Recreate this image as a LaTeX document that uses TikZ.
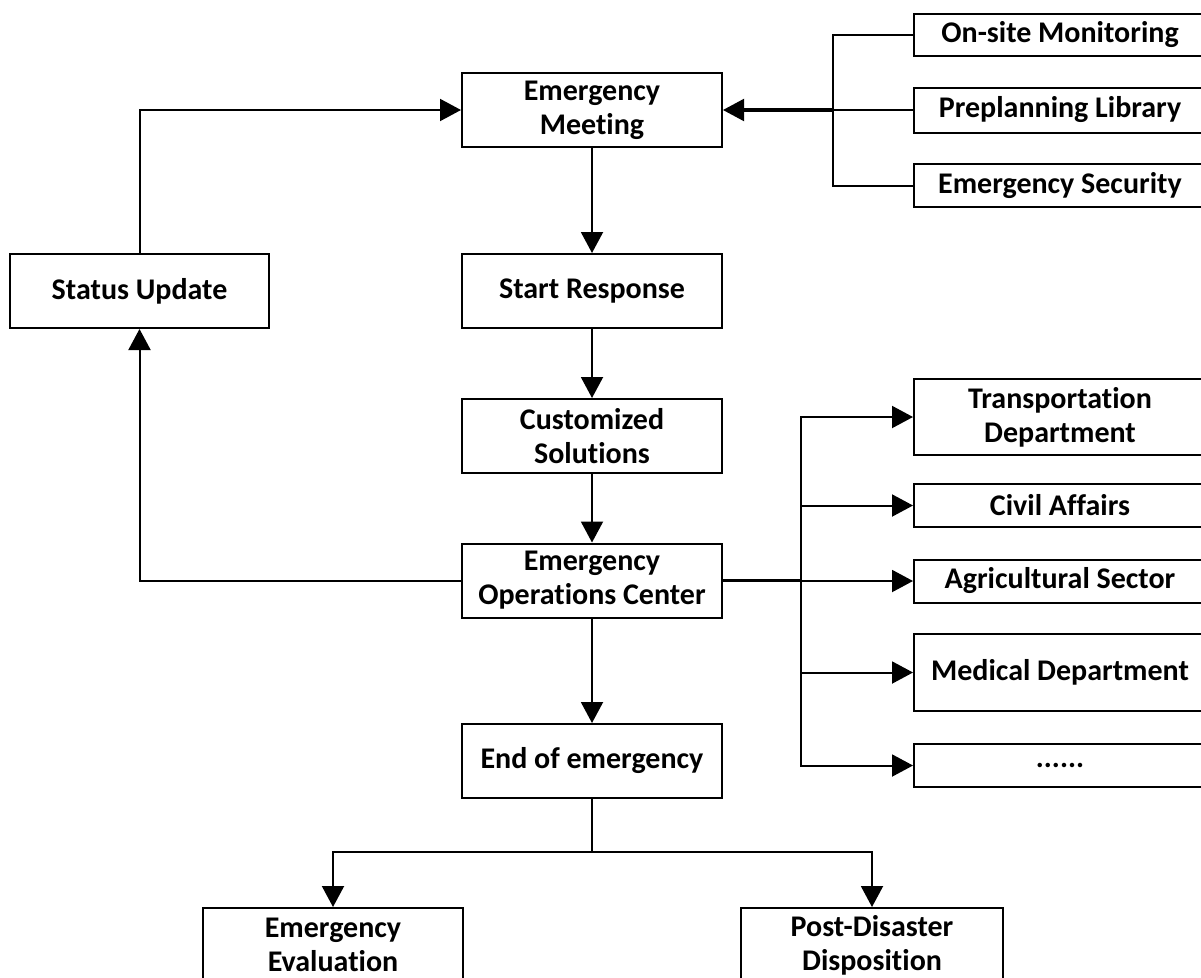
\documentclass[tikz,border=0pt]{standalone}
\usepackage{fontspec}
\setmainfont{Carlito}[Ligatures=NoCommon, RawFeature={-liga;-clig;-dlig}]
\usetikzlibrary{arrows.meta}

\begin{document}
\begin{tikzpicture}[x=1pt,y=-1pt,
  box/.style={draw, line width=2pt, inner sep=0pt, align=center,
    font=\bfseries\fontsize{30}{34}\selectfont},
  mainbox/.style={box, minimum width=260pt, minimum height=74pt},
  sidebox/.style={box, minimum width=292pt},
  link/.style={line width=2pt},
  flow/.style={link, -{Triangle[length=21pt,width=22pt]}},
  heavy/.style={line width=3.2pt}]
\useasboundingbox (0,0) rectangle (1201,977);

% central chain
\node[mainbox] (em)  at (592,110)   {Emergency\\Meeting};
\node[mainbox] (sr)  at (592,291)   {Start Response};
\node[mainbox] (cs)  at (592,436)   {Customized\\Solutions};
\node[mainbox] (eoc) at (592,580.5) {Emergency\\Operations Center};
\node[mainbox] (end) at (592,761)   {End of emergency};

% feedback loop
\node[mainbox, minimum width=259pt] (su) at (139.5,291) {Status Update};

% closing stage
\node[mainbox] (ev) at (333,945) {Emergency\\Evaluation};
\node[mainbox, minimum width=262pt] (pd) at (872,945) {Post-Disaster\\Disposition};

% inputs to the meeting
\node[sidebox, minimum height=42pt] (osm) at (1060,35)    {On-site Monitoring};
\node[sidebox, minimum height=45pt] (pl)  at (1060,110) {Preplanning Library};
\node[sidebox, minimum height=43pt] (es)  at (1060,185.5) {Emergency Security};

% departments dispatched by the operations center
\node[sidebox, minimum height=76pt] (td)  at (1060,417)   {Transportation\\Department};
\node[sidebox, minimum height=43pt] (ca)  at (1060,505.5) {Civil Affairs};
\node[sidebox, minimum height=43pt] (ag)  at (1060,581) {Agricultural Sector};
\node[sidebox, minimum height=77pt] (md)  at (1060,672.5) {Medical Department};
\node[sidebox, minimum height=43pt] (dt)  at (1060,765.5) {......};

% main flow
\draw[flow] (em) -- (sr);
\draw[flow] (sr) -- (cs);
\draw[flow] (cs) -- (eoc);
\draw[flow] (eoc) -- (end);

% status update loop
\draw[flow] (eoc.west) -| (su.south);
\draw[flow] (su.north) |- (em.west);

% input bus
\coordinate (bt) at (833,110);
\draw[link] (osm.west) -| (bt) |- (es.west);
\draw[link] (pl.west) -- (bt);
\draw[heavy] (bt) -- ([xshift=21pt]em.east);
\draw[flow] (bt) -- (em.east);

% dispatch bus
\coordinate (bb) at (801,580.5);
\draw[heavy] (eoc.east) -- (bb);
\draw[flow] (bb) |- (td.west);
\draw[flow] (bb) |- (ca.west);
\draw[flow] (bb) |- (ag.west);
\draw[flow] (bb) |- (md.west);
\draw[flow] (bb) |- (dt.west);

% split after the end of the emergency
\coordinate (bj) at (592,852);
\draw[link] (end.south) -- (bj);
\draw[flow] (bj) -| (ev.north);
\draw[flow] (bj) -| (pd.north);
\end{tikzpicture}
\end{document}
